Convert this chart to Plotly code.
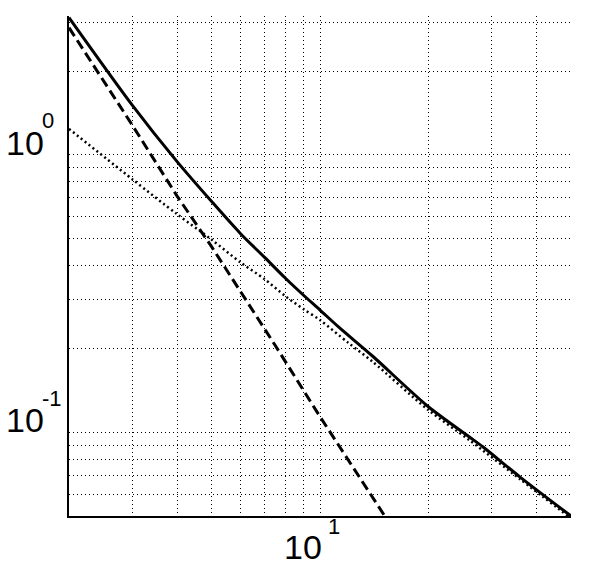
"""
Log-log plot: two component curves and their combination.
"""
import math
import plotly.graph_objects as go

# values
x_total = [2, 3, 4, 5, 6, 7, 8, 9, 10, 11.3, 14, 20, 26, 28.4, 36, 50]
y_total = [3.12, 1.51, 0.945, 0.677, 0.521, 0.428, 0.36, 0.312, 0.276, 0.239,
           0.1885, 0.124, 0.0965, 0.0888, 0.0692, 0.05]

x_steep = [2, 3, 4, 5, 7.5, 10, 15.3]
y_steep = [2.87, 1.28, 0.71, 0.465, 0.206, 0.114, 0.049]

x_shallow = [2, 3, 4, 5, 6, 7, 8, 9, 10, 12, 14, 20, 26, 36, 50]
y_shallow = [1.24, 0.817, 0.611, 0.494, 0.41, 0.357, 0.31, 0.278, 0.254, 0.21,
             0.18, 0.1206, 0.094, 0.068, 0.049]

x_grid = [2, 3, 4, 5, 6, 7, 8, 9, 10, 20, 30, 40, 50]
y_grid = [0.05, 0.06, 0.07, 0.08, 0.09, 0.1, 0.2, 0.3, 0.4, 0.5, 0.6, 0.7,
          0.8, 0.9, 1, 2, 3]
x_decades = [10]
y_decades = [0.1, 1]

BASE_FONT = dict(family='Liberation Sans', size=34, color='black')
EXP_FONT = dict(family='Liberation Sans', size=22, color='black')

fig = go.Figure()

fig.add_trace(go.Scatter(
    x=x_shallow, y=y_shallow, mode='lines',
    line=dict(color='black', width=2.5, dash='2px,3px', shape='spline',
              smoothing=0.8),
))
fig.add_trace(go.Scatter(
    x=x_steep, y=y_steep, mode='lines',
    line=dict(color='black', width=3, dash='10px,5px'),
))
fig.add_trace(go.Scatter(
    x=x_total, y=y_total, mode='lines',
    line=dict(color='black', width=3, shape='spline', smoothing=0.8),
))

axis_common = dict(
    type='log',
    showgrid=True, gridcolor='black', gridwidth=1, griddash='1px,3px',
    zeroline=False,
    showline=True, linecolor='black', linewidth=1.5,
    tickmode='array',
    showticklabels=False,
    ticks='',
    automargin=False,
)

fig.update_xaxes(**axis_common, range=[math.log10(2), math.log10(50)],
                 tickvals=x_grid)
fig.update_yaxes(**axis_common, range=[math.log10(0.05), 0.5],
                 tickvals=y_grid)

# MATLAB-style power labels: "10" base plus a raised exponent
for v in y_decades:
    e = round(math.log10(v))
    fig.add_annotation(
        text='10', xref='paper', x=0, xshift=-44.5, xanchor='center',
        yref='y', y=e, yanchor='middle', yshift=12,
        showarrow=False, font=BASE_FONT,
    )
    fig.add_annotation(
        text=str(e), xref='paper', x=0, xshift=-29.5, xanchor='left',
        yref='y', y=e, yanchor='middle', yshift=34,
        showarrow=False, font=EXP_FONT,
    )
for v in x_decades:
    e = round(math.log10(v))
    fig.add_annotation(
        text='10', xref='x', x=e, xshift=-17, xanchor='center',
        yref='paper', y=0, yanchor='middle', yshift=-31,
        showarrow=False, font=BASE_FONT,
    )
    fig.add_annotation(
        text=str(e), xref='x', x=e, xshift=6, xanchor='left',
        yref='paper', y=0, yanchor='middle', yshift=-10,
        showarrow=False, font=EXP_FONT,
    )

fig.update_layout(
    width=594, height=567,
    margin=dict(l=61, r=31, t=8, b=59),
    plot_bgcolor='white', paper_bgcolor='white',
    showlegend=False,
)

fig.write_html("out.html")
